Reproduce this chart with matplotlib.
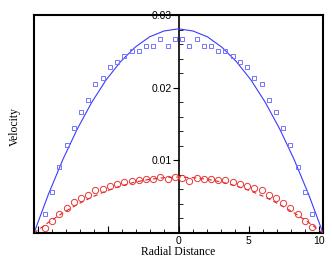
import matplotlib
matplotlib.use("Agg")
import matplotlib.pyplot as plt
from matplotlib.ticker import MultipleLocator, FixedLocator

# sample positions (radial distance) of the measured points
r_pts = [-9.53, -9.01, -8.50, -7.98, -7.47, -6.95, -6.44, -5.92, -5.41, -4.89,
         -4.38, -3.86, -3.35, -2.83, -2.32, -1.80, -1.29, -0.77, -0.26,
         0.26, 0.77, 1.29, 1.80, 2.32, 2.83, 3.35, 3.86, 4.38, 4.89,
         5.41, 5.92, 6.44, 6.95, 7.47, 7.98, 8.50, 9.01, 9.53]

# blue squares
u_sq = [0.0026, 0.0056, 0.0091, 0.0121, 0.0145, 0.0167, 0.0183, 0.0205, 0.0213, 0.0228,
        0.0236, 0.0243, 0.0251, 0.0251, 0.0258, 0.0258, 0.0267, 0.0258, 0.0267,
        0.0267, 0.0258, 0.0267, 0.0258, 0.0258, 0.0251, 0.0251, 0.0243, 0.0236, 0.0228,
        0.0213, 0.0205, 0.0183, 0.0167, 0.0145, 0.0121, 0.0091, 0.0056, 0.0026]

# red circles
u_ci = [0.0007, 0.0016, 0.0026, 0.0035, 0.0042, 0.0048, 0.0052, 0.0059, 0.0061, 0.0065,
        0.0068, 0.0070, 0.0072, 0.0073, 0.0074, 0.0075, 0.0077, 0.0075, 0.0077,
        0.0076, 0.0072, 0.0076, 0.0074, 0.0074, 0.0073, 0.0073, 0.0070, 0.0068, 0.0065,
        0.0062, 0.0059, 0.0052, 0.0048, 0.0041, 0.0035, 0.0026, 0.0016, 0.0008]

# analytic profiles
r_line = [-10.3, -9.27, -8.24, -7.21, -6.18, -5.15, -4.12, -3.09, -2.06, -1.03, 0.0,
          1.03, 2.06, 3.09, 4.12, 5.15, 6.18, 7.21, 8.24, 9.27, 10.3]
u_blue = [0.0, 0.00534, 0.01012, 0.01433, 0.0180, 0.0211, 0.0236, 0.02557, 0.0270, 0.0278, 0.0281,
          0.0278, 0.0270, 0.02557, 0.0236, 0.0211, 0.0180, 0.01433, 0.01012, 0.00534, 0.0]
u_red = [0.0, 0.00146, 0.00277, 0.00393, 0.00493, 0.00578, 0.00647, 0.00701, 0.00739, 0.00762, 0.0077,
         0.00762, 0.00739, 0.00701, 0.00647, 0.00578, 0.00493, 0.00393, 0.00277, 0.00146, 0.0]

x_ticks = [-10, -5, 0, 5, 10]
x_ticklabels = ["", "", "0", "5", "10"]
y_ticks = [0.01, 0.02, 0.03]
y_ticklabels = ["0.01", "0.02", "0.03"]

fig = plt.figure(figsize=(3.32, 2.68), dpi=100)
ax = fig.add_axes([34 / 332, 35 / 268, 289 / 332, 218 / 268])

ax.plot(r_line, u_blue, color="#3a3aff", lw=0.8, zorder=3)
ax.plot(r_line, u_red, color="#e02020", lw=0.8, ls=(0, (4, 3)), zorder=3)
ax.plot(r_pts, u_sq, ls="none", marker="s", ms=3.4, mfc="none",
        mec="#7373ff", mew=0.7, zorder=4)
ax.plot(r_pts, u_ci, ls="none", marker="o", ms=4.5, mfc="none",
        mec="#e83535", mew=0.7, zorder=4)

ax.set_xlim(-10.3, 10.3)
ax.set_ylim(0, 0.03)

# y axis sits at r = 0, the frame border is drawn separately
ax.spines["left"].set_position(("data", 0))
ax.spines["left"].set_linewidth(1.2)
for s in ["top", "right", "bottom"]:
    ax.spines[s].set_linewidth(1.5)
ax.plot([0, 0], [0, 1], transform=ax.transAxes, color="k", lw=1.5,
        clip_on=False, zorder=5)

ax.xaxis.set_major_locator(FixedLocator(x_ticks))
ax.set_xticklabels(x_ticklabels)
ax.xaxis.set_minor_locator(MultipleLocator(1))
ax.yaxis.set_major_locator(FixedLocator(y_ticks))
ax.set_yticklabels(y_ticklabels)
ax.yaxis.set_minor_locator(MultipleLocator(0.002))

ax.tick_params(axis="x", which="major", direction="in", length=5, width=0.8,
               labelsize=7.5, pad=2)
ax.tick_params(axis="x", which="minor", direction="in", length=3, width=0.6)
ax.tick_params(axis="y", which="major", direction="out", length=4, width=0.8,
               labelsize=7.5, pad=1)
ax.tick_params(axis="y", which="minor", direction="in", length=3, width=0.6)
for lbl in ax.get_xticklabels() + ax.get_yticklabels():
    lbl.set_fontfamily("Liberation Sans")

ax.set_xlabel("Radial Distance", family="Liberation Serif", fontsize=8.4, labelpad=0)
ax.set_ylabel("Velocity", family="Liberation Serif", fontsize=8.4)
ax.yaxis.set_label_coords(-0.045, 0.49, transform=ax.transAxes)

fig.savefig("out.png", dpi=100)
